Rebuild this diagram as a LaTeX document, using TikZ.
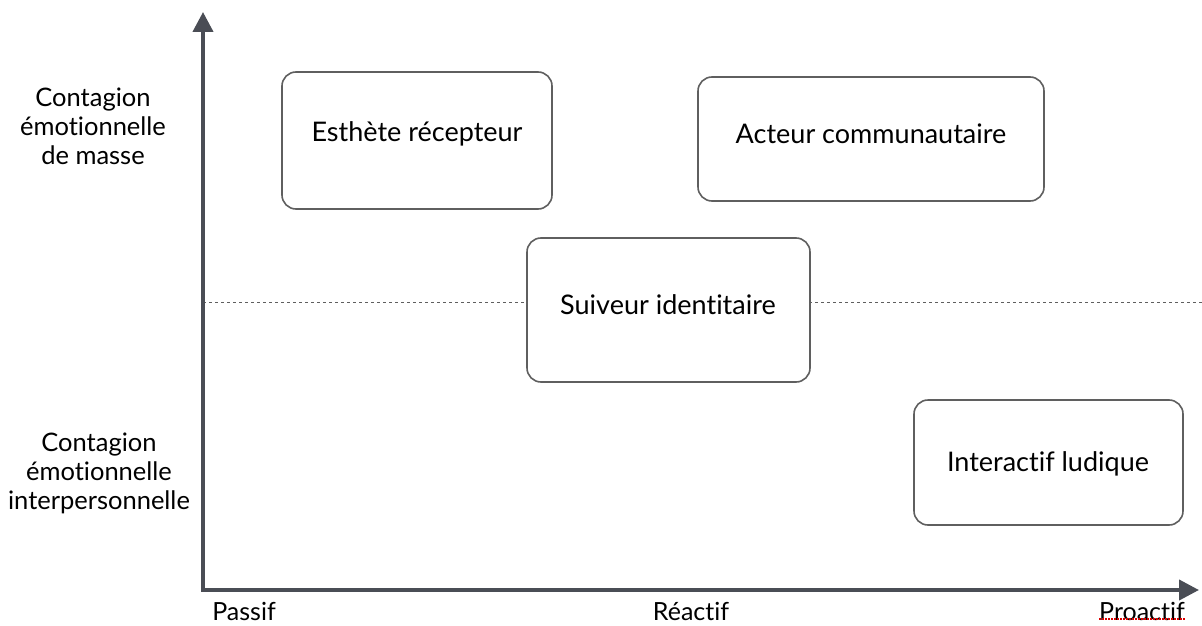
\documentclass[tikz,border=0pt]{standalone}
\usepackage{fontspec}
\setmainfont[Ligatures=CommonOff]{Lato}
\usetikzlibrary{arrows.meta}
\definecolor{axisgray}{HTML}{4A4D55}
\definecolor{boxgray}{HTML}{5F5F5F}
\tikzset{
  axis/.style={draw=axisgray, line width=4pt, -{Triangle[length=20pt,width=20pt]}},
  rolebox/.style={draw=boxgray, line width=1.6pt, rounded corners=14pt, fill=white},
  lbl/.style={font=\fontsize{27}{29}\selectfont, text=black, inner sep=0pt},
  sidelbl/.style={font=\fontsize{25.5}{29}\selectfont, text=black, inner sep=0pt, align=center},
  axlbl/.style={font=\fontsize{25}{29}\selectfont, text=black, inner sep=0pt},
}
\begin{document}
\begin{tikzpicture}[x=1pt,y=-1pt]
\useasboundingbox (0,0) rectangle (1202,626);
% dashed midline
\coordinate (mL) at (203,302);
\coordinate (mR) at (1202,302);
\draw[boxgray, line width=1pt, dash pattern=on 3pt off 3pt] (mL) -- (mR);
% axes
\coordinate (O) at (203,590);
\coordinate (Ytop) at (203,12);
\coordinate (Xend) at (1199,590);
\draw[axis] (O) -- (Ytop);
\draw[axis] ([xshift=-2pt]O) -- (Xend);
% boxes
\draw[rolebox] (282,72) rectangle (552,209);
\node[lbl] (esthete) at (417,134) {Esthète récepteur};
\draw[rolebox] (698,77) rectangle (1044,201);
\node[lbl] (acteur) at (871,134) {Acteur communautaire};
\draw[rolebox] (527,238) rectangle (810,382);
\node[lbl] (suiveur) at (668,305) {Suiveur identitaire};
\draw[rolebox] (914,400) rectangle (1183,525);
\node[lbl] (ludique) at (1048,464) {Interactif ludique};
% side labels
\node[sidelbl] (masse) at (93,126) {Contagion\\émotionnelle\\de masse};
\node[sidelbl] (inter) at (99,473) {Contagion\\émotionnelle\\interpersonnelle};
% x labels
\node[axlbl] (passif) at (244,611) {Passif};
\node[axlbl] (reactif) at (691,611) {Réactif};
\node[axlbl] (proactif) at (1142,611) {Proactif};
\draw[red!85!black, line width=1.5pt, dash pattern=on 1.5pt off 1.5pt]
  ([yshift=1.5pt]proactif.south west) -- ([yshift=1.5pt]proactif.south east);
\end{tikzpicture}
\end{document}
